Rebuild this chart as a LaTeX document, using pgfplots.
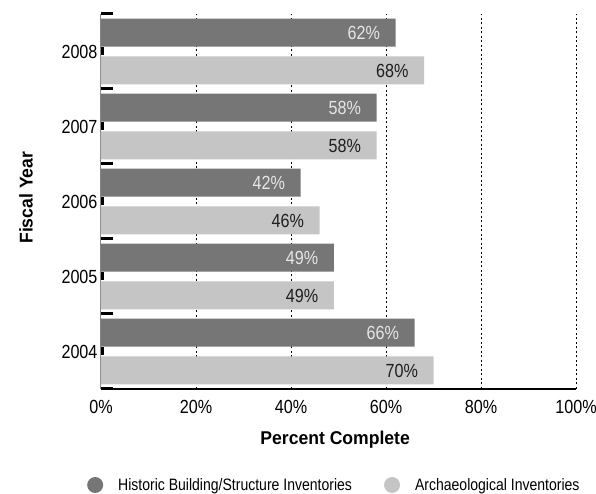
\documentclass[border=0pt]{standalone}
\usepackage{fontspec}
\setmainfont{Liberation Sans}[FakeStretch=0.85]
\newfontfamily\titlefont{Liberation Sans}[FakeStretch=0.95]
\usepackage{pgfplots}
\pgfplotsset{compat=1.18}
\definecolor{darkbar}{HTML}{767676}
\definecolor{lightbar}{HTML}{C5C5C5}
\definecolor{axisgray}{HTML}{888888}
\begin{document}
\begin{tikzpicture}
\path[use as bounding box] (-101pt,-105pt) rectangle (495pt,389pt);
\begin{axis}[
  at={(0,0)}, anchor=south west,
  scale only axis, width=475pt, height=375pt,
  xbar, bar width=0.373,
  /pgf/number format/assume math mode=true,
  xmin=0, xmax=100, ymin=2003.5, ymax=2008.5,
  axis x line*=bottom, axis y line*=left,
  x axis line style={black, line width=2.2pt},
  y axis line style={axisgray, line width=1pt},
  tick align=inside,
  xtick={20,40,60,80,100},
  xticklabels={20\%,40\%,60\%,80\%,100\%},
  extra x ticks={0}, extra x tick labels={0\%},
  extra x tick style={grid=none},
  xtick style={draw=none},
  xmajorgrids,
  grid style={black, dash pattern=on 2pt off 2.5pt, line width=0.7pt},
  x tick label style={font=\fontsize{19}{19}\selectfont, yshift=-8pt},
  ytick={2004,2005,2006,2007,2008},
  yticklabels={2004,2005,2006,2007,2008},
  y tick label style={font=\fontsize{19}{19}\selectfont},
  major tick length=3pt,
  ytick style={black, line width=8pt},
  extra y ticks={2003.5,2004.5,2005.5,2006.5,2007.5,2008.5},
  extra y tick labels={},
  extra y tick style={major tick length=12pt, ytick style={black, line width=3pt}},
  xlabel={\titlefont\bfseries\fontsize{18.5}{18.5}\selectfont Percent Complete},
  xlabel style={at={(axis description cs:0.493,-0.136)}, anchor=center},
  ylabel={\titlefont\bfseries\fontsize{18.5}{18.5}\selectfont Fiscal Year},
  ylabel style={at={(axis description cs:-0.1580,0.51)}, anchor=center},
  point meta=x,
  nodes near coords={\pgfmathprintnumber{\pgfplotspointmeta}\%},
  nodes near coords align={anchor=east},
  legend style={at={(axis description cs:-0.0295,-0.256)}, anchor=west, draw=none, fill=none,
    inner sep=0pt, font=\fontsize{16.5}{16.5}\selectfont, legend columns=2,
    nodes={inner sep=0pt},
    /tikz/every odd column/.append style={column sep=15pt},
    /tikz/every even column/.append style={column sep=32pt}},
  legend cell align=left,
]
\addplot[fill=darkbar, draw=none, bar shift=0.253,
  every node near coord/.append style={anchor=east, xshift=-12pt, text=white!90!black, font=\fontsize{19}{19}\selectfont},
  legend image code/.code={\fill[darkbar] (0pt,0pt) circle (8pt);}]
  coordinates {(66,2004) (49,2005) (42,2006) (58,2007) (62,2008)};
\addlegendentry{Historic Building/Structure Inventories}
\addplot[fill=lightbar, draw=none, bar shift=-0.253,
  every node near coord/.append style={anchor=east, xshift=-12pt, text=black!88, font=\fontsize{19}{19}\selectfont},
  legend image code/.code={\fill[lightbar] (0pt,0pt) circle (8pt);}]
  coordinates {(70,2004) (49,2005) (46,2006) (58,2007) (68,2008)};
\addlegendentry{Archaeological Inventories}
\end{axis}
\end{tikzpicture}
\end{document}
